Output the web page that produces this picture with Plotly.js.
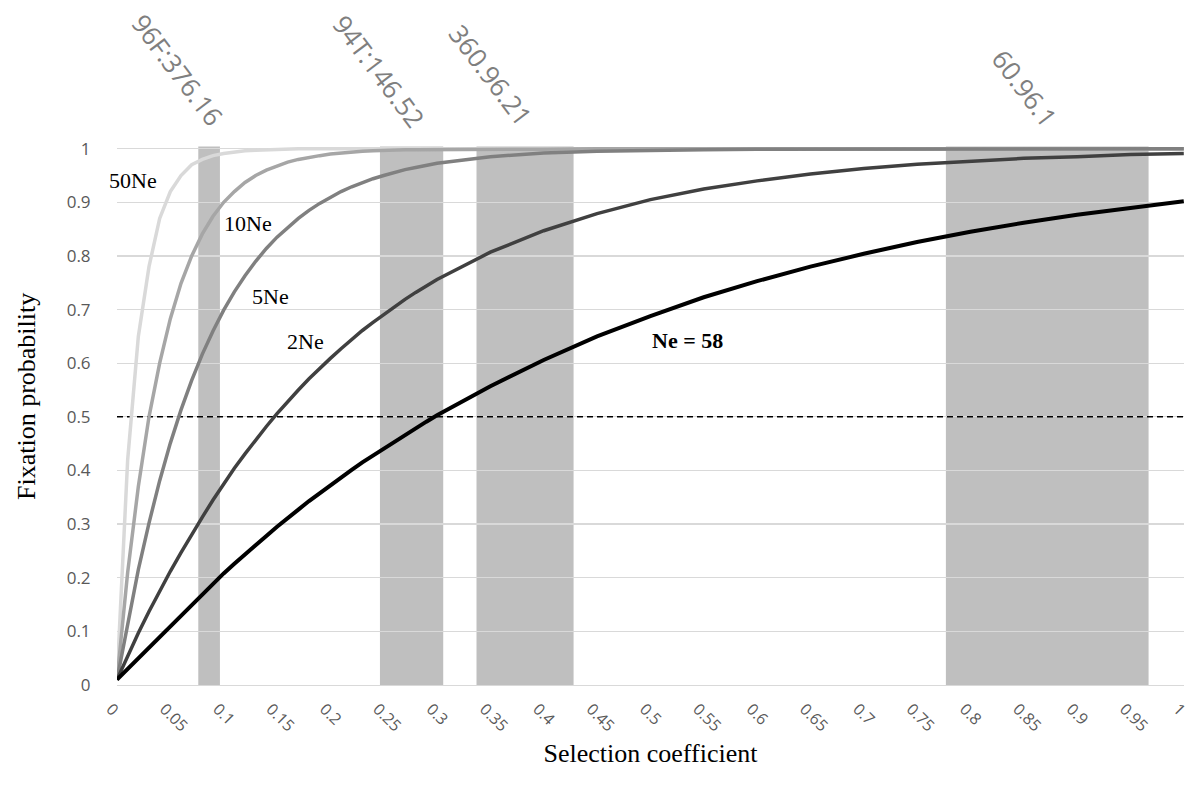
<!DOCTYPE html>
<html>
<head>
<meta charset="utf-8">
<script src="https://cdn.plot.ly/plotly-3.0.1.min.js"></script>
<style>html,body{margin:0;padding:0;background:#fff;}#chart{width:1192px;height:787px;}</style>
</head>
<body>
<div id="chart"></div>
<script>
// Selection coefficient values (x)
const selection = [0,0.01,0.02,0.03,0.04,0.05,0.06,0.07,0.08,0.09,0.10,0.11,0.12,0.13,0.14,0.15,0.16,0.17,0.18,0.19,0.20,0.21,0.22,0.23,0.24,0.25,0.26,0.27,0.28,0.29,0.30,0.35,0.40,0.45,0.50,0.55,0.60,0.65,0.70,0.75,0.80,0.85,0.90,0.95,1.00];

// Fixation probability for each population size
const fix50Ne = [0.01,0.42,0.65,0.78,0.87,0.92,0.95,0.97,0.98,0.987,0.991,0.994,0.996,0.997,0.998,0.999,0.999,1,1,1,1,1,1,1,1,1,1,1,1,1,1,1,1,1,1,1,1,1,1,1,1,1,1,1,1];
const fix10Ne = [0.01,0.21,0.37,0.50,0.60,0.683,0.749,0.80,0.841,0.874,0.90,0.92,0.937,0.95,0.96,0.968,0.975,0.98,0.984,0.987,0.99,0.992,0.994,0.995,0.996,0.997,0.998,0.998,0.998,0.998,0.998,0.999,0.999,1,1,1,1,1,1,1,1,1,1,1,1];
const fix5Ne = [0.01,0.115,0.215,0.302,0.381,0.451,0.513,0.568,0.617,0.66,0.699,0.733,0.763,0.79,0.814,0.835,0.853,0.87,0.885,0.898,0.909,0.92,0.929,0.937,0.944,0.95,0.956,0.961,0.965,0.969,0.973,0.985,0.992,0.995,0.997,0.998,0.999,0.999,0.999,1,1,1,1,1,1];
const fix2Ne = [0.01,0.055,0.097,0.137,0.175,0.212,0.247,0.281,0.313,0.345,0.375,0.404,0.431,0.457,0.482,0.506,0.529,0.55,0.571,0.591,0.609,0.627,0.645,0.661,0.676,0.691,0.705,0.719,0.732,0.744,0.756,0.807,0.847,0.879,0.905,0.925,0.94,0.953,0.963,0.971,0.977,0.982,0.985,0.989,0.991];
const fixNe58 = [0.01,0.03,0.05,0.07,0.09,0.11,0.13,0.15,0.17,0.19,0.208,0.226,0.244,0.26,0.278,0.295,0.31,0.327,0.343,0.358,0.373,0.387,0.401,0.415,0.428,0.441,0.454,0.467,0.479,0.491,0.503,0.557,0.606,0.65,0.688,0.723,0.753,0.78,0.804,0.826,0.845,0.862,0.877,0.89,0.902];

const seriesNames = ['50Ne','10Ne','5Ne','2Ne','Ne = 58'];
const seriesValues = [fix50Ne, fix10Ne, fix5Ne, fix2Ne, fixNe58];
const seriesColors = ['#d9d9d9','#a6a6a6','#808080','#404040','#000000'];

// Shaded intervals of selection coefficient
const bandStart = [0.0762, 0.2465, 0.337, 0.777];
const bandEnd   = [0.0965, 0.3058, 0.428, 0.967];
const bandLabels = ['96F:376.16', '94T:146.52', '360.96.21', '60.96.1'];

// Threshold line
const threshold = 0.5;

// Tick labels
const xTickVals = [0,0.05,0.1,0.15,0.2,0.25,0.3,0.35,0.4,0.45,0.5,0.55,0.6,0.65,0.7,0.75,0.8,0.85,0.9,0.95,1];
const xTickText = ['0','0.05','0.1','0.15','0.2','0.25','0.3','0.35','0.4','0.45','0.5','0.55','0.6','0.65','0.7','0.75','0.8','0.85','0.9','0.95','1'];
const yTickVals = [0,0.1,0.2,0.3,0.4,0.5,0.6,0.7,0.8,0.9,1];
const yTickText = ['0','0.1','0.2','0.3','0.4','0.5','0.6','0.7','0.8','0.9','1'];

const traces = seriesNames.map((n, i) => ({
  x: selection, y: seriesValues[i], type: 'scatter', mode: 'lines', name: n,
  line: {color: seriesColors[i], width: i === 4 ? 4 : 3.5}, hoverinfo: 'skip'
}));
traces.unshift({
  x: [0, 1], y: [threshold, threshold], type: 'scatter', mode: 'lines',
  line: {color: '#000', width: 1.5, dash: '6px,4px'}, hoverinfo: 'skip', name: 'threshold'
});

const shapes = bandStart.map((s, i) => ({
  type: 'rect', xref: 'x', yref: 'y', x0: s, x1: bandEnd[i], y0: 0, y1: 1.004,
  fillcolor: '#bfbfbf', line: {width: 0}, layer: 'below'
}));

// label centres (plot-x in data units, y in paper units above the plot)
const labelPos = [
  {x: 0.057, y: 1.141},
  {x: 0.2455, y: 1.139},
  {x: 0.3505, y: 1.132},
  {x: 0.851, y: 1.108}
];
const annotations = bandLabels.map((t, i) => ({
  text: t, xref: 'x', yref: 'paper', x: labelPos[i].x, y: labelPos[i].y,
  showarrow: false, textangle: 53, xanchor: 'center', yanchor: 'middle',
  font: {family: 'Open Sans, sans-serif', size: 26, color: '#7f7f7f'}
}));

const curveLabelPos = [
  {x: (133-117)/1067, y: (685-181)/536},
  {x: (248-117)/1067, y: (685-224)/536},
  {x: (271-117)/1067, y: (685-297)/536},
  {x: (306-117)/1067, y: (685-342)/536},
  {x: (688-117)/1067, y: (685-341)/536}
];
seriesNames.forEach((n, i) => {
  annotations.push({
    text: i === 4 ? '<b>' + n + '</b>' : n, xref: 'x', yref: 'y',
    x: curveLabelPos[i].x, y: curveLabelPos[i].y, showarrow: false,
    xanchor: 'center', yanchor: 'middle',
    font: {family: 'Liberation Serif, Times New Roman, serif', size: 22, color: '#000'}
  });
});

// y-axis title (placed as in the reference, slightly above the plot centre)
annotations.push({
  text: 'Fixation probability', xref: 'paper', yref: 'paper',
  x: (26-117)/1067, y: (685-397)/539, textangle: -90, showarrow: false,
  xanchor: 'center', yanchor: 'middle',
  font: {family: 'Liberation Serif, Times New Roman, serif', size: 26, color: '#000'}
});

const layout = {
  width: 1192, height: 787,
  margin: {l: 117, r: 8, t: 146, b: 102},
  paper_bgcolor: '#fff', plot_bgcolor: '#fff',
  showlegend: false,
  xaxis: {
    range: [0, 1.0002], tickvals: xTickVals, ticktext: xTickText, tickangle: 45,
    ticklabeloverflow: 'allow', ticklabelshift: -6,
    showgrid: false, zeroline: false, showline: true, linecolor: '#d9d9d9', linewidth: 1.3,
    ticks: 'outside', ticklen: 7, tickcolor: 'rgba(0,0,0,0)',
    tickfont: {family: 'Open Sans, sans-serif', size: 16, color: '#595959'},
    title: {text: 'Selection coefficient', standoff: 8,
      font: {family: 'Liberation Serif, Times New Roman, serif', size: 26, color: '#000'}}
  },
  yaxis: {
    range: [0, 1.005], tickvals: yTickVals, ticktext: yTickText,
    showgrid: true, gridcolor: '#d9d9d9', gridwidth: 1.3, zeroline: false, showline: false,
    ticks: 'outside', ticklen: 22, tickcolor: 'rgba(0,0,0,0)',
    tickfont: {family: 'Open Sans, sans-serif', size: 17, color: '#595959'}
  },
  shapes: shapes,
  annotations: annotations
};

Plotly.newPlot('chart', traces, layout, {displayModeBar: false, staticPlot: true});
</script>
</body>
</html>
